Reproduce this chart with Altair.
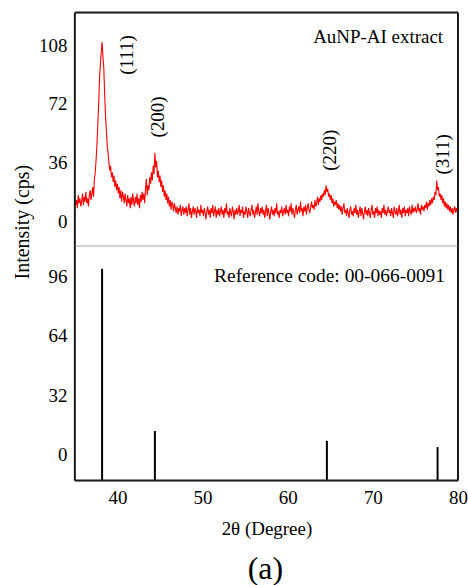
import altair as alt
import pandas as pd

FONT = "Liberation Serif"

# Measured XRD pattern (AuNP-AI extract), sampled every 0.1 degree from 35.0 to 80.0
two_theta_start = 35.0
two_theta_step = 0.1
intensity = [
    15, 10, 13, 8, 16, 11, 14, 9, 12, 17,
    10, 15, 12, 18, 11, 14, 9, 16, 19, 13,
    17, 21, 15, 26, 30, 38, 47, 60, 72, 88,
    96, 104, 110, 101, 94, 78, 65, 56, 47, 42,
    36, 31, 34, 27, 30, 24, 28, 21, 25, 19,
    23, 17, 21, 14, 19, 12, 18, 15, 11, 17,
    13, 9, 16, 11, 14, 8, 15, 10, 17, 12,
    9, 15, 11, 17, 10, 14, 8, 16, 12, 18,
    13, 17, 11, 20, 26, 16, 22, 19, 27, 23,
    30, 25, 34, 29, 42, 33, 37, 27, 31, 24,
    28, 21, 25, 18, 22, 15, 19, 13, 17, 11,
    15, 9, 13, 7, 12, 10, 6, 11, 8, 5,
    9, 4, 8, 6, 10, 3, 7, 9, 4, 8,
    5, 9, 3, 7, 11, 4, 8, 2, 6, 9,
    4, 8, 6, 2, 9, 5, 7, 3, 10, 5,
    7, 3, 8, 5, 1, 6, 9, 4, 7, 2,
    8, 5, 10, 3, 6, 9, 2, 7, 4, 8,
    3, 6, 9, 4, 7, 2, 8, 5, 11, 4,
    6, 2, 8, 5, 3, 9, 6, 1, 7, 4,
    8, 4, 6, 10, 3, 7, 5, 9, 2, 6,
    4, 9, 6, 2, 8, 5, 3, 7, 10, 4,
    7, 2, 5, 9, 4, 11, 6, 3, 8, 5,
    9, 4, 7, 2, 6, 10, 3, 8, 5, 1,
    6, 9, 4, 7, 3, 8, 5, 11, 4, 6,
    2, 7, 5, 9, 3, 6, 8, 4, 10, 5,
    7, 3, 9, 6, 11, 4, 8, 5, 2, 7,
    10, 4, 7, 9, 5, 12, 6, 8, 3, 9,
    6, 10, 4, 8, 11, 7, 5, 9, 12, 8,
    10, 7, 13, 9, 11, 15, 10, 14, 12, 16,
    13, 17, 15, 19, 16, 22, 18, 20, 15, 17,
    13, 16, 11, 14, 9, 12, 10, 13, 8, 11,
    7, 10, 6, 9, 4, 8, 11, 5, 7, 3,
    8, 5, 2, 7, 9, 4, 6, 3, 8, 5,
    10, 4, 7, 2, 6, 9, 3, 8, 5, 1,
    6, 9, 4, 7, 3, 8, 5, 2, 7, 10,
    4, 6, 2, 8, 5, 9, 3, 7, 4, 6,
    2, 8, 5, 10, 4, 7, 3, 6, 9, 5,
    7, 3, 8, 5, 2, 9, 6, 4, 8, 3,
    6, 10, 4, 7, 2, 8, 5, 9, 3, 7,
    5, 8, 3, 9, 6, 4, 10, 5, 8, 6,
    9, 5, 7, 11, 6, 8, 4, 10, 7, 9,
    6, 10, 8, 12, 7, 11, 9, 13, 10, 14,
    11, 15, 13, 18, 16, 25, 19, 21, 15, 17,
    13, 16, 11, 14, 9, 12, 8, 11, 7, 10,
    6, 9, 5, 8, 4, 7, 9, 5, 8, 6,
    7,
]
two_theta = [round(two_theta_start + two_theta_step * k, 1) for k in range(len(intensity))]

# Peak labels
hkl_labels = ["(111)", "(200)", "(220)", "(311)"]
hkl_x = [41.1, 44.8, 64.95, 78.2]
hkl_y = [102, 64, 43.5, 41]

# Reference pattern (00-066-0091)
ref_pos = [38.2, 44.4, 64.6, 77.6]
ref_int = [100, 12.8, 7.5, 4.1]

top_ticks = [0, 36, 72, 108]
bottom_ticks = [0, 32, 64, 96]
x_ticks = [40, 50, 60, 70, 80]

W = 384
H1 = 234
H2 = 235
FRAME = "#1a1a1a"

meas = pd.DataFrame({"t": two_theta, "i": intensity})
labels = pd.DataFrame({"t": hkl_x, "i": hkl_y, "lab": hkl_labels})
ref = pd.DataFrame({"t": ref_pos, "i": ref_int})
one = pd.DataFrame({"k": [0]})

xscale = alt.Scale(domain=[35, 80], nice=False, zero=False)
y1 = alt.Scale(domain=[-15.3, 128], nice=False, zero=False)
y2 = alt.Scale(domain=[-13.9, 112.2], nice=False, zero=False)

yaxis_top = alt.Axis(values=top_ticks, ticks=False, domain=False, grid=False,
                     labelPadding=8, labelFont=FONT, labelFontSize=19,
                     labelColor="black", title=None)
yaxis_bot = alt.Axis(values=bottom_ticks, ticks=False, domain=False, grid=False,
                     labelPadding=8, labelFont=FONT, labelFontSize=19,
                     labelColor="black", title=None)
xaxis_bot = alt.Axis(values=x_ticks, ticks=False, domain=False, grid=False,
                     labelPadding=8, labelFont=FONT, labelFontSize=19,
                     labelColor="black", labelFlush=False,
                     title="2θ (Degree)", titleFont=FONT, titleFontSize=19,
                     titleFontWeight="normal", titleColor="black", titlePadding=12)


def frame(h, bottom_color, draw_top):
    base = alt.Chart(one)
    parts = [
        base.mark_rule(color=FRAME, strokeWidth=2).encode(
            x=alt.value(0), y=alt.value(0), y2=alt.value(h)),
        base.mark_rule(color=FRAME, strokeWidth=2).encode(
            x=alt.value(W), y=alt.value(0), y2=alt.value(h)),
    ]
    if draw_top:
        parts.append(base.mark_rule(color=FRAME, strokeWidth=2).encode(
            x=alt.value(0), x2=alt.value(W), y=alt.value(0)))
    parts.append(base.mark_rule(color=bottom_color,
                                strokeWidth=2 if bottom_color == FRAME else 1).encode(
        x=alt.value(0), x2=alt.value(W), y=alt.value(h)))
    return parts


line = alt.Chart(meas).mark_line(color="#ff0000", strokeWidth=1.1).encode(
    x=alt.X("t:Q", scale=xscale, axis=None),
    y=alt.Y("i:Q", scale=y1, axis=yaxis_top),
)
hkl = alt.Chart(labels).mark_text(angle=270, font=FONT, fontSize=19, color="black",
                                  align="center", baseline="middle").encode(
    x=alt.X("t:Q", scale=xscale, axis=None),
    y=alt.Y("i:Q", scale=y1, axis=yaxis_top),
    text="lab:N",
)
top_title = alt.Chart(one).mark_text(font=FONT, fontSize=19, color="black",
                                     align="right", baseline="middle").encode(
    x=alt.value(369), y=alt.value(24), text=alt.value("AuNP-AI extract"))
ytitle = alt.Chart(one).mark_text(angle=270, font=FONT, fontSize=20, color="black",
                                  align="center", baseline="middle").encode(
    x=alt.value(-52), y=alt.value(210), text=alt.value("Intensity (cps)"))

top = alt.layer(line, hkl, top_title, ytitle, *frame(H1, "#8c8c8c", True)).properties(
    width=W, height=H1)

sticks = alt.Chart(ref).mark_rule(color="black", strokeWidth=2).encode(
    x=alt.X("t:Q", scale=xscale, axis=xaxis_bot),
    y=alt.Y("i:Q", scale=y2, axis=yaxis_bot),
    y2=alt.value(H2),
)
bot_title = alt.Chart(one).mark_text(font=FONT, fontSize=19.5, color="black",
                                     align="right", baseline="middle").encode(
    x=alt.value(371), y=alt.value(30), text=alt.value("Reference code: 00-066-0091"))
panel_tag = alt.Chart(one).mark_text(font=FONT, fontSize=32, color="black",
                                     align="center", baseline="middle").encode(
    x=alt.value(191), y=alt.value(324), text=alt.value("(a)"))

bottom = alt.layer(sticks, bot_title, panel_tag, *frame(H2, FRAME, False)).properties(
    width=W, height=H2)

chart = alt.vconcat(top, bottom, spacing=0, bounds="flush").properties(
    padding={"left": 12, "top": 10, "right": 0, "bottom": 0}
).configure_view(stroke=None).configure(background="white")

chart.save("out.html", embed_options={"renderer": "svg", "actions": False})
